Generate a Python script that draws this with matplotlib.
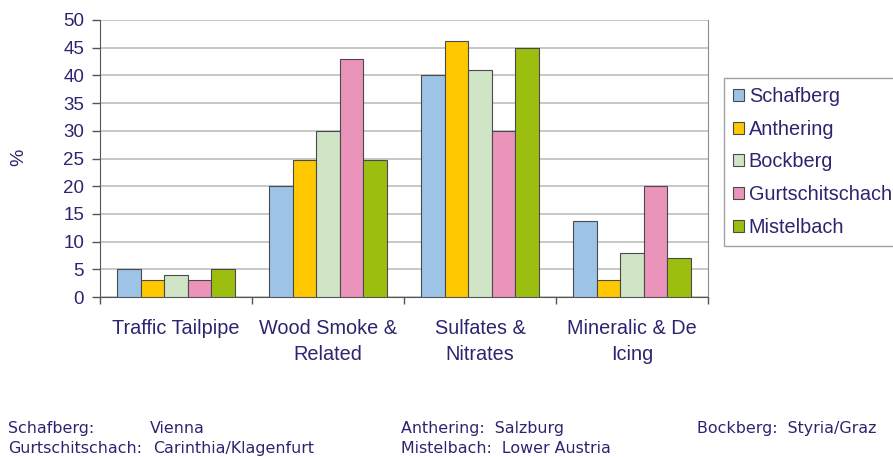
import numpy as np
import matplotlib
matplotlib.use("Agg")
import matplotlib.pyplot as plt
from matplotlib.patches import Patch

categories = ["Traffic Tailpipe", "Wood Smoke &\nRelated", "Sulfates &\nNitrates", "Mineralic & De\nIcing"]
sites = ["Schafberg", "Anthering", "Bockberg", "Gurtschitschach", "Mistelbach"]
schafberg = [5, 20, 40, 13.8]
anthering = [3, 24.8, 46.2, 3]
bockberg = [4, 30, 41, 8]
gurtschitschach = [3, 43, 30, 20]
mistelbach = [5, 24.8, 45, 7]
yticks = list(range(0, 51, 5))

series = [schafberg, anthering, bockberg, gurtschitschach, mistelbach]
colors = ["#9DC3E6", "#FFC800", "#CFE5C5", "#EB94BB", "#9CBF0F"]
text_color = "#2B2570"
edge = "#4A4A4A"

plt.rcParams["font.family"] = ["Liberation Sans", "DejaVu Sans"]

fig = plt.figure(figsize=(8.93, 4.57), dpi=100)
ax = fig.add_axes([100 / 893, 1 - 297 / 457, 608 / 893, 277 / 457])

x = np.arange(len(categories))
bw = 0.154
for i, (vals, c) in enumerate(zip(series, colors)):
    ax.bar(x + (i - 2) * bw, vals, width=bw, color=c, edgecolor=edge,
           linewidth=0.8, zorder=3, label=sites[i])

ax.set_xlim(-0.5, len(categories) - 0.5)
ax.set_ylim(0, 50)
ax.set_yticks(yticks)
ax.set_yticklabels([str(t) for t in yticks], fontsize=13.5, color=text_color)
ax.yaxis.grid(True, color="#BDBDBD", linewidth=1.2, zorder=0)
ax.set_axisbelow(True)

# category labels centered, tick marks on group boundaries
ax.set_xticks(np.arange(-0.5, len(categories), 1.0))
ax.set_xticklabels([])
ax.set_xticks(x, minor=True)
ax.set_xticklabels(categories, minor=True, fontsize=14.3, color=text_color,
                   linespacing=1.42)
ax.tick_params(axis="x", which="minor", length=0, pad=16)
ax.tick_params(axis="x", which="major", length=5, color="#555555", width=1)
ax.tick_params(axis="y", length=6, color="#555555", width=1, pad=5.5)

ax.spines["right"].set_color("#8C8C8C")
ax.spines["left"].set_color("#555555")
ax.spines["bottom"].set_color("#555555")
ax.spines["top"].set_visible(False)

fig.text(19 / 893, 1 - 157 / 457, "%", fontsize=14, color=text_color,
         rotation=90, ha="center", va="center")

handles = [Patch(facecolor=c, edgecolor=edge, linewidth=0.8) for c in colors]
leg = fig.legend(handles, sites, loc="upper left",
                 bbox_to_anchor=(724 / 893, 1 - 78 / 457),
                 fontsize=14.3, frameon=True, fancybox=False,
                 edgecolor="#8C8C8C", handlelength=0.55, handleheight=0.55,
                 handletextpad=0.25, labelspacing=0.69, borderpad=0.45,
                 borderaxespad=0)
leg.get_frame().set_linewidth(1)
for t in leg.get_texts():
    t.set_color(text_color)

note_kw = dict(fontsize=11.4, color=text_color, family="DejaVu Sans",
               va="baseline", ha="left")
row1 = 1 - 433 / 457
row2 = 1 - 453 / 457
fig.text(8 / 893, row1, "Schafberg:", **note_kw)
fig.text(150 / 893, row1, "Vienna", **note_kw)
fig.text(401 / 893, row1, "Anthering:  Salzburg", **note_kw)
fig.text(697 / 893, row1, "Bockberg:  Styria/Graz", **note_kw)
fig.text(8 / 893, row2, "Gurtschitschach:", **note_kw)
fig.text(153 / 893, row2, "Carinthia/Klagenfurt", **note_kw)
fig.text(401 / 893, row2, "Mistelbach:  Lower Austria", **note_kw)

fig.savefig("out.png", dpi=100)
